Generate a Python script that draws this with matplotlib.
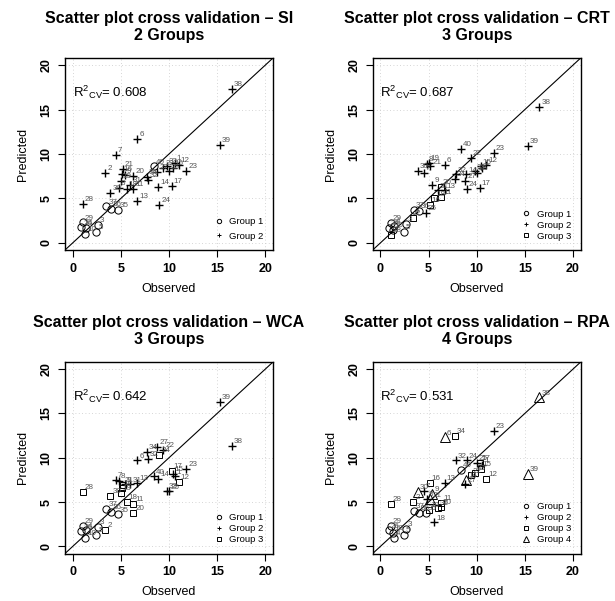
import matplotlib
matplotlib.use("Agg")
import matplotlib.pyplot as plt
from matplotlib.lines import Line2D

plt.rcParams['font.family'] = ['Liberation Sans', 'DejaVu Sans']
plt.rcParams['mathtext.fontset'] = 'custom'
plt.rcParams['mathtext.rm'] = 'Liberation Sans'

# observed values of the 40 samples (same in every panel)
observed = [10.6, 3.4, 2.65, 1.4, 2.45, 6.7, 4.5, 4.8, 5.4, 1.3,
            6.3, 11.0, 6.7, 8.9, 10.4, 5.1, 10.3, 5.6, 5.0, 6.3,
            5.2, 9.4, 11.8, 9.0, 10.0, 0.9, 8.8, 1.05, 1.05, 3.9,
            6.0, 7.8, 9.8, 7.7, 4.7, 4.0, 3.5, 16.5, 15.3, 8.4]

pred_si = [9.0, 7.9, 2.05, 1.7, 1.2, 11.7, 9.9, 6.2, 7.6, 1.0,
           6.1, 8.8, 4.7, 6.3, 8.4, 7.8, 6.4, 6.1, 7.0, 7.5,
           8.3, 8.4, 8.1, 4.3, 8.05, 1.75, 8.0, 4.4, 2.3, 5.6,
           6.5, 7.1, 8.7, 7.4, 3.75, 3.8, 4.1, 17.3, 11.0, 8.6]
grp_si = [2, 2, 1, 1, 1, 2, 2, 2, 2, 1,
          2, 2, 2, 2, 2, 2, 2, 2, 2, 2,
          2, 2, 2, 2, 2, 1, 2, 2, 1, 2,
          2, 2, 2, 2, 1, 1, 1, 2, 2, 1]

pred_crt = [8.4, 2.8, 2.1, 1.9, 1.2, 8.8, 7.9, 8.9, 6.55, 1.5,
            5.2, 8.8, 5.9, 7.7, 8.6, 4.3, 6.2, 5.0, 9.0, 6.3,
            8.6, 9.6, 10.1, 6.1, 7.9, 1.7, 7.0, 0.9, 2.25, 8.1,
            5.9, 7.7, 8.05, 7.2, 3.4, 3.6, 3.7, 15.3, 10.9, 10.6]
grp_crt = [2, 3, 1, 1, 1, 2, 2, 2, 2, 1,
           3, 2, 2, 2, 2, 3, 2, 3, 2, 3,
           2, 2, 2, 2, 2, 1, 2, 3, 1, 2,
           2, 2, 2, 2, 2, 1, 1, 2, 2, 2]

pred_wca = [7.9, 1.9, 2.2, 1.8, 1.3, 9.7, 7.5, 7.4, 7.0, 1.0,
            4.8, 7.3, 7.2, 7.6, 8.2, 6.6, 8.5, 5.0, 6.0, 3.8,
            6.9, 10.9, 8.7, 10.3, 6.2, 1.7, 11.2, 6.1, 2.3, 5.7,
            7.0, 9.9, 6.3, 10.7, 3.6, 3.9, 4.2, 11.35, 16.3, 7.9]
grp_wca = [2, 3, 1, 1, 1, 2, 2, 2, 2, 1,
           3, 3, 2, 2, 2, 3, 3, 3, 3, 3,
           3, 2, 2, 3, 2, 1, 2, 3, 1, 3,
           2, 2, 2, 2, 1, 1, 1, 2, 2, 2]

pred_rpa = [9.2, 5.0, 2.0, 1.0, 1.3, 12.3, 6.3, 5.4, 5.9, 1.5,
            4.9, 7.6, 7.2, 7.5, 8.7, 7.2, 9.4, 2.7, 4.1, 4.45,
            5.3, 8.0, 13.0, 9.7, 9.4, 1.8, 7.0, 4.8, 2.3, 6.1,
            4.3, 9.7, 8.3, 12.45, 3.8, 3.8, 4.0, 16.8, 8.2, 8.6]
grp_rpa = [2, 3, 1, 1, 1, 4, 2, 2, 4, 1,
           3, 3, 2, 4, 3, 3, 3, 2, 3, 3,
           4, 3, 2, 2, 2, 1, 2, 3, 1, 4,
           3, 2, 3, 3, 1, 1, 1, 4, 4, 1]

methods = ['SI', 'CRT', 'WCA', 'RPA']
n_groups = [2, 3, 3, 4]
r2_cv = [0.608, 0.687, 0.642, 0.531]
preds = [pred_si, pred_crt, pred_wca, pred_rpa]
groups = [grp_si, grp_crt, grp_wca, grp_rpa]

markers = {1: ('o', 5.2), 2: ('+', 6.0), 3: ('s', 4.4), 4: ('^', 7.0)}

# axes boxes in pixels: left, right, top, bottom
boxes = [(65, 273, 58, 250), (372.7, 580.7, 58, 250),
         (65, 273, 362, 553.5), (372.7, 580.7, 362, 553.5)]

W, H = 615, 601
fig = plt.figure(figsize=(W / 100, H / 100), dpi=100)

for k in range(4):
    l, r, t, b = boxes[k]
    ax = fig.add_axes([l / W, 1 - b / H, (r - l) / W, (b - t) / H])
    ax.set_xlim(-0.8, 20.8)
    ax.set_ylim(-0.8, 20.8)
    ax.set_xticks([0, 5, 10, 15, 20])
    ax.set_yticks([0, 5, 10, 15, 20])
    ax.grid(True, color='#c8c8c8', linestyle=(0, (1, 3)), linewidth=0.6)
    ax.set_axisbelow(True)
    ax.plot([-0.8, 20.8], [-0.8, 20.8], color='black', linewidth=0.8, zorder=2)

    for i in range(len(observed)):
        g = groups[k][i]
        m, ms = markers[g]
        ax.plot(observed[i], preds[k][i], marker=m, markersize=ms,
                markerfacecolor='none', markeredgecolor='black',
                markeredgewidth=0.7 if m != '+' else 1.0, linestyle='none', zorder=3)
        ax.annotate(str(i + 1), (observed[i], preds[k][i]), xytext=(1.4, 0.6),
                    textcoords='offset points', fontsize=5.8, color='#555555',
                    ha='left', va='bottom', zorder=4)

    ax.text(0, 16.9, 'R$\\mathregular{^2}$$\\mathregular{_{CV}}$= %.3f' % r2_cv[k],
            fontsize=9.5, va='center', ha='left')

    handles = []
    for g in range(1, n_groups[k] + 1):
        m, ms = markers[g]
        handles.append(Line2D([], [], marker=m, markersize=ms * 0.6, linestyle='none',
                              markerfacecolor='none', markeredgecolor='black',
                              markeredgewidth=0.7, label='Group %d' % g))
    ax.legend(handles=handles, loc='lower right', frameon=False, fontsize=6.8,
              handlelength=1.0, handletextpad=0.6, borderaxespad=0.6,
              labelspacing=0.55 if n_groups[k] == 2 else 0.2)

    ax.set_title('Scatter plot cross validation \u2013 %s\n%d Groups' % (methods[k], n_groups[k]),
                 fontsize=11.5, fontweight='bold', pad=13, linespacing=1.15)
    ax.set_xlabel('Observed', fontsize=9, labelpad=6)
    ax.set_ylabel('Predicted', fontsize=9, labelpad=8)
    ax.tick_params(axis='both', direction='out', length=5, width=0.8, labelsize=9, pad=4)
    for lab in ax.get_yticklabels():
        lab.set_rotation(90)
        lab.set_va('center')
    for lab in ax.get_xticklabels() + ax.get_yticklabels():
        lab.set_fontweight('bold')
    for s in ax.spines.values():
        s.set_linewidth(1.0)

fig.savefig('out.png', dpi=100)
